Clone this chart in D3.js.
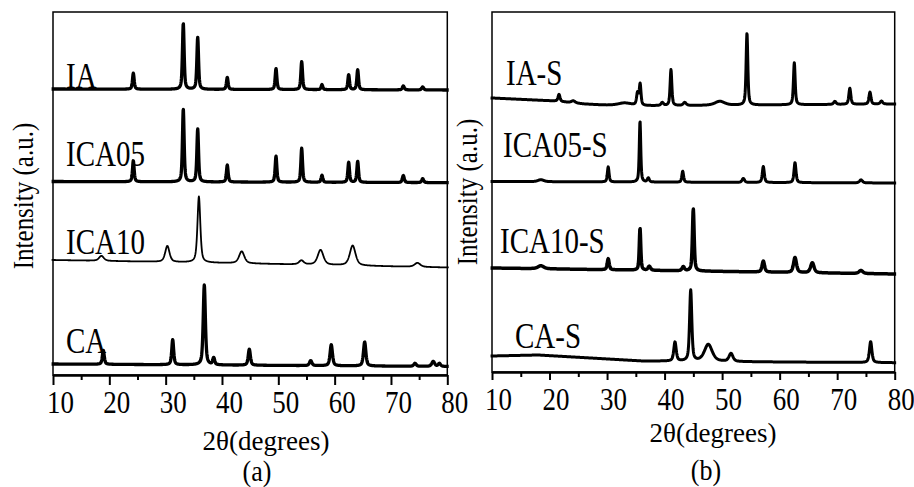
<!DOCTYPE html>
<html>
<head>
<meta charset="utf-8">
<script src="https://cdn.jsdelivr.net/npm/d3@7"></script>
<style>
	body { margin: 0; background: #fff; }
	text { font-family: "Liberation Serif", "Times New Roman", serif; fill: #000; }
</style>
</head>
<body>
<div id="graph"></div>
<script>
// x axis ticks (2 theta, degrees)
var xTicks = [10, 20, 30, 40, 50, 60, 70, 80];
var xMinor = [15, 25, 35, 45, 55, 65, 75];

// peaks: [2theta, height (a.u.), fwhm (deg)]
var peaksIA = [[24.26,16,0.35],[33.13,66,0.35],[35.69,52,0.35],[40.94,12,0.35],[49.59,21,0.35],[54.15,28,0.35],[57.75,5,0.35],[62.49,15,0.35],[64.09,20,0.35],[72.19,4,0.4],[75.63,3,0.4]];
var peaksICA05 = [[24.26,21,0.35],[33.13,73,0.35],[35.69,53,0.35],[40.94,17,0.35],[49.59,26,0.35],[54.15,34,0.35],[57.75,7,0.35],[62.49,20,0.35],[64.09,21,0.35],[72.19,7,0.4],[75.63,4,0.4]];
var peaksICA10 = [[18.6,5,1.0],[30.3,16,0.9],[35.9,66,0.6],[43.5,12,1.1],[54.1,4,1.0],[57.5,15,1.2],[63.2,20,1.2],[74.7,4,1.2]];
var peaksCA = [[18.93,14,0.4],[31.25,25,0.4],[36.86,80,0.45],[38.53,7,0.4],[44.85,16,0.45],[55.75,5,0.5],[59.4,21,0.5],[65.33,24,0.5],[74.26,3,0.5],[77.5,5,0.6],[78.6,3,0.5]];

var peaksIAS = [[21.65,7,0.4],[24.13,2,0.8],[33,3,3],[35.3,12,0.4],[35.75,21,0.35],[39.6,3,0.5],[41.11,36,0.35],[43.5,3,0.6],[49.6,4,2],[54.32,72,0.35],[62.55,42,0.35],[69.6,3,0.5],[72.2,16,0.4],[75.7,12,0.4],[77.7,3,0.5]];
var peaksICA05S = [[18.5,2,1.2],[30.2,15,0.35],[35.73,61,0.3],[37.17,4,0.4],[43.15,11,0.35],[53.68,4,0.5],[57.16,16,0.4],[62.67,20,0.4],[74.14,3,0.6]];
var peaksICA10S = [[18.5,3,1.2],[30.2,11,0.4],[35.73,42,0.3],[37.34,4,0.5],[43.25,4,0.5],[44.99,62,0.35],[57.16,11,0.5],[62.67,15,0.6],[65.68,10,0.7],[74.14,3,0.8]];
var peaksCAS = [[41.81,19,0.5],[44.54,71,0.45],[47.6,17,1.6],[51.54,8,0.8],[75.82,21,0.5]];

// baselines: [2theta, a.u.]
var baseIA = [[10,286],[80,285]];
var baseICA05 = [[10,193.5],[80,192.3]];
var baseICA10 = [[10,115],[40,112],[80,107.5]];
var baseCA = [[10,11],[80,8.5]];
var baseIAS = [[10,274],[21,271],[26,268],[32,266],[45,266.5],[80,268]];
var baseICA05S = [[10,190.5],[80,189]];
var baseICA10S = [[10,104],[80,98]];
var baseCAS = [[10,16],[18,17],[28,13.7],[36,11],[60,10],[80,9.3]];

var labelsA = ["IA", "ICA05", "ICA10", "CA"];
var labelsB = ["IA-S", "ICA05-S", "ICA10-S", "CA-S"];

function baseAt(base, t) {
	for (var i = 1; i < base.length; i++) {
		if (t <= base[i][0]) {
			var a = base[i-1], b = base[i];
			return a[1] + (b[1] - a[1]) * (t - a[0]) / (b[0] - a[0]);
		}
	}
	return base[base.length-1][1];
}

function profile(peaks, base) {
	var grid = d3.range(9.75, 80.26, 0.05);
	return grid.map(function (t) {
		var y = baseAt(base, t);
		peaks.forEach(function (p) {
			var u = (t - p[0]) / (p[2] / 2);
			y += p[1] * (0.55 / (1 + u * u) + 0.45 * Math.exp(-Math.LN2 * u * u));
		});
		return [t, y];
	});
}

var svg = d3.select("#graph").append("svg")
	.attr("width", 914)
	.attr("height", 487);

var stretch = 1.2;

function addText(x, y, str, size, anchor, k) {
	svg.append("text")
		.attr("transform", "translate(" + x + "," + y + ") scale(1," + (k || stretch) + ")")
		.attr("text-anchor", anchor || "start")
		.attr("font-size", size)
		.text(str);
}

function drawPanel(p) {
	var x = d3.scaleLinear().domain([10, 80]).range([p.x0, p.x1]);
	var y = d3.scaleLinear().domain([0, p.y1 - p.y0]).range([p.y1, p.y0]);

	svg.append("rect")
		.attr("x", p.x0).attr("y", p.y0)
		.attr("width", p.x1 - p.x0).attr("height", p.y1 - p.y0)
		.attr("fill", "none").attr("stroke", "#000").attr("stroke-width", 1.5);

	var line = d3.line().x(function (d) { return x(d[0]); }).y(function (d) { return y(d[1]); });

	p.series.forEach(function (s, i) {
		svg.append("path")
			.datum(profile(s.peaks, s.base))
			.attr("d", line)
			.attr("fill", "none")
			.attr("stroke", "#000")
			.attr("stroke-width", p.widths[i])
			.attr("stroke-linejoin", "round");
		addText(p.labelPos[i][0], p.labelPos[i][1], s.label, 29);
	});

	var gMinor = svg.append("g")
		.attr("transform", "translate(0," + p.y1 + ")")
		.call(d3.axisBottom(x).tickValues(xMinor).tickSize(5).tickSizeOuter(0).tickFormat(""));
	gMinor.select(".domain").remove();
	gMinor.selectAll("line").attr("stroke-width", 2);

	var gMajor = svg.append("g")
		.attr("transform", "translate(0," + p.y1 + ")")
		.call(d3.axisBottom(x).tickValues(xTicks).tickSize(p.tick).tickSizeOuter(0));
	gMajor.select(".domain").attr("stroke-width", 2.5);
	gMajor.selectAll("line").attr("stroke-width", 2);
	gMajor.selectAll("text")
		.attr("y", null).attr("dy", null)
		.attr("font-size", 27)
		.attr("font-family", null)
		.attr("transform", "translate(" + p.labelDx + "," + (p.tickBase - p.y1) + ") scale(1," + stretch + ")");

	addText(p.titleX, p.titleY, "2\u03b8(degrees)", 27, "middle", 1.0);
	addText(p.capX, p.capY, p.caption, 26, "middle", 1.1);

	svg.append("text")
		.attr("transform", "translate(" + p.yLabX + "," + p.yLabY + ") rotate(-90) scale(1," + stretch + ")")
		.attr("text-anchor", "middle")
		.attr("font-size", 25)
		.text("Intensity (a.u.)");
}

drawPanel({
	x0: 53, x1: 447.3, y0: 12, y1: 375, tick: 10,
	series: [
		{label: labelsA[0], peaks: peaksIA, base: baseIA},
		{label: labelsA[1], peaks: peaksICA05, base: baseICA05},
		{label: labelsA[2], peaks: peaksICA10, base: baseICA10},
		{label: labelsA[3], peaks: peaksCA, base: baseCA}
	],
	widths: [3.3, 3.3, 1.8, 3.3],
	labelPos: [[66, 88], [66, 166], [66, 254], [66, 353]],
	labelDx: 7, tickBase: 413,
	titleX: 266, titleY: 450, capX: 257, capY: 481, caption: "(a)",
	yLabX: 33, yLabY: 196
});

drawPanel({
	x0: 492, x1: 894.7, y0: 12, y1: 372, tick: 8,
	series: [
		{label: labelsB[0], peaks: peaksIAS, base: baseIAS},
		{label: labelsB[1], peaks: peaksICA05S, base: baseICA05S},
		{label: labelsB[2], peaks: peaksICA10S, base: baseICA10S},
		{label: labelsB[3], peaks: peaksCAS, base: baseCAS}
	],
	widths: [3, 3, 3.5, 3],
	labelPos: [[506, 85], [503, 157], [500, 253], [515, 348]],
	labelDx: 6, tickBase: 410,
	titleX: 713, titleY: 442, capX: 706, capY: 480, caption: "(b)",
	yLabX: 477, yLabY: 192
});
</script>
</body>
</html>
